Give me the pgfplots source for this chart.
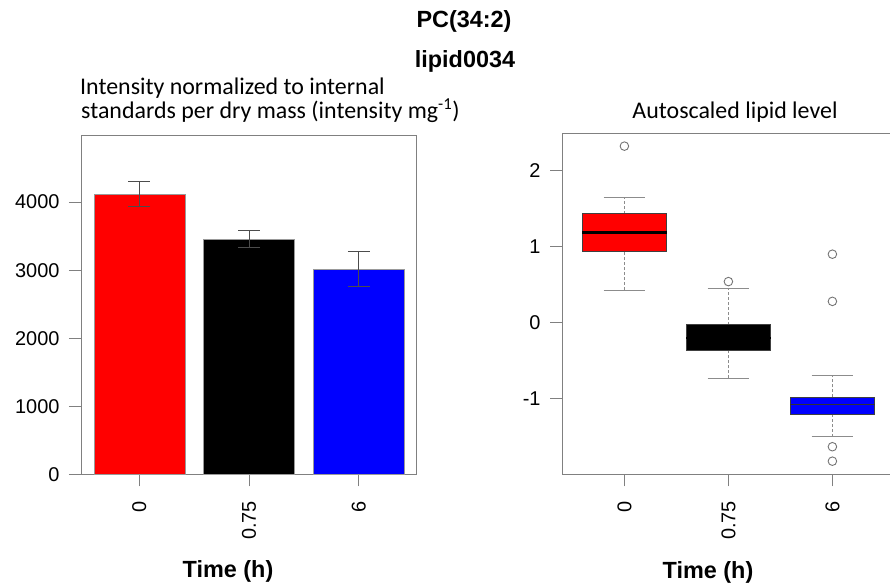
\documentclass[border=0pt]{standalone}
\usepackage{pgfplots}
\pgfplotsset{compat=1.18}
\usepackage{fontspec}
\setmainfont{Liberation Sans}
\newfontfamily\calibri{Carlito}
\begin{document}
\begin{tikzpicture}
\path[use as bounding box] (0,0) rectangle (890bp,588bp);
\pgfplotsset{
  rstyle/.style={
    scale only axis,
    axis line style={black!50, line width=0.8pt},
    tick style={black!50, line width=0.8pt},
    major tick length=12bp,
    tick align=outside,
    tick pos=left,
    ticklabel style={font=\fontsize{20}{20}\selectfont, text=black},
    yticklabel style={xshift=-6bp},
    xticklabel style={yshift=-11bp, rotate=90, anchor=east},
    xtick={0,1,2}, xticklabels={0,0.75,6},
  },
  whisk/.style={black!45, densely dashed, line width=0.7pt},
  cap/.style={black!45, line width=0.9pt},
  med/.style={black, line width=2.2pt},
  boxedge/.style={draw=black!75, line width=0.8pt},
}
% ---------- left panel ----------
\begin{axis}[rstyle, at={(81bp,113.5bp)}, anchor=south west,
  width=335bp, height=339.5bp,
  xmin=-0.53, xmax=2.52, ymin=0, ymax=4985,
  ytick={0,1000,2000,3000,4000}, yticklabels={0,1000,2000,3000,4000},
]
\addplot[ybar, bar width=91bp, bar shift=0pt, fill=red, draw=black!40,
  error bars/.cd, y dir=both, y explicit,
  error bar style={black!70, line width=0.8pt},
  error mark options={rotate=90, black!70, mark size=11bp, line width=0.8pt}]
  coordinates {(0,4120) +- (0,184)};
\addplot[ybar, bar width=91bp, bar shift=0pt, fill=black, draw=black!40,
  error bars/.cd, y dir=both, y explicit,
  error bar style={black!70, line width=0.8pt},
  error mark options={rotate=90, black!70, mark size=11bp, line width=0.8pt}]
  coordinates {(1,3455) +- (0,126)};
\addplot[ybar, bar width=91bp, bar shift=0pt, fill=blue, draw=black!40,
  error bars/.cd, y dir=both, y explicit,
  error bar style={black!70, line width=0.8pt},
  error mark options={rotate=90, black!70, mark size=11bp, line width=0.8pt}]
  coordinates {(2,3018) +- (0,254)};
\end{axis}
% ---------- right panel ----------
\begin{axis}[rstyle, at={(562bp,113.5bp)}, anchor=south west,
  width=332.8bp, height=341bp,
  xmin=-0.6, xmax=2.6, ymin=-1.995, ymax=2.486,
  ytick={-1,0,1,2}, yticklabels={-1,0,1,2},
]
% whiskers (dashed stems)
\addplot[whisk] coordinates {(0,0.43) (0,0.94)};
\addplot[whisk] coordinates {(0,1.43) (0,1.65)};
\addplot[whisk] coordinates {(1,-0.73) (1,-0.36)};
\addplot[whisk] coordinates {(1,-0.026) (1,0.45)};
\addplot[whisk] coordinates {(2,-1.50) (2,-1.21)};
\addplot[whisk] coordinates {(2,-0.98) (2,-0.69)};
% whisker caps
\addplot[cap] coordinates {(-0.2,0.43) (0.2,0.43)};
\addplot[cap] coordinates {(-0.2,1.65) (0.2,1.65)};
\addplot[cap] coordinates {(0.8,-0.73) (1.2,-0.73)};
\addplot[cap] coordinates {(0.8,0.45) (1.2,0.45)};
\addplot[cap] coordinates {(1.8,-1.50) (2.2,-1.50)};
\addplot[cap] coordinates {(1.8,-0.69) (2.2,-0.69)};
% boxes (lower quartile to upper quartile)
\addplot[boxedge, fill=red] coordinates {(-0.405,0.94) (0.405,0.94) (0.405,1.43) (-0.405,1.43) (-0.405,0.94)};
\addplot[boxedge, fill=black] coordinates {(0.595,-0.36) (1.405,-0.36) (1.405,-0.026) (0.595,-0.026) (0.595,-0.36)};
\addplot[boxedge, fill=blue] coordinates {(1.595,-1.21) (2.405,-1.21) (2.405,-0.98) (1.595,-0.98) (1.595,-1.21)};
% medians
\addplot[med] coordinates {(-0.405,1.185) (0.405,1.185)};
\addplot[med] coordinates {(0.595,-0.2) (1.405,-0.2)};
\addplot[black!80, line width=1.2pt] coordinates {(1.595,-1.07) (2.405,-1.07)};
% outliers
\addplot[only marks, mark=o, mark size=4.3pt, black!55, line width=0.9pt]
  coordinates {(0,2.32) (1,0.54) (2,0.90) (2,0.28) (2,-1.63) (2,-1.82)};
\end{axis}
% ---------- titles ----------
\node[font=\bfseries\fontsize{23.5}{24}\selectfont, anchor=base] at (464bp,560bp) {PC(34:2)};
\node[font=\bfseries\fontsize{23.5}{24}\selectfont, anchor=base] at (465bp,520bp) {lipid0034};
\node[font=\calibri\fontsize{24}{24}\selectfont, anchor=base west, inner sep=0pt] at (80bp,493bp) {Intensity normalized to internal};
\node[font=\calibri\fontsize{24}{24}\selectfont, anchor=base west, inner sep=0pt] at (81bp,469bp) {standards per dry mass (intensity mg\textsuperscript{-1})};
\node[font=\calibri\fontsize{24}{24}\selectfont, anchor=base] at (735bp,469.7bp) {Autoscaled lipid level};
\node[font=\bfseries\fontsize{23.5}{24}\selectfont, anchor=base] at (228bp,11bp) {Time (h)};
\node[font=\bfseries\fontsize{23.5}{24}\selectfont, anchor=base] at (708bp,10bp) {Time (h)};
\end{tikzpicture}
\end{document}
